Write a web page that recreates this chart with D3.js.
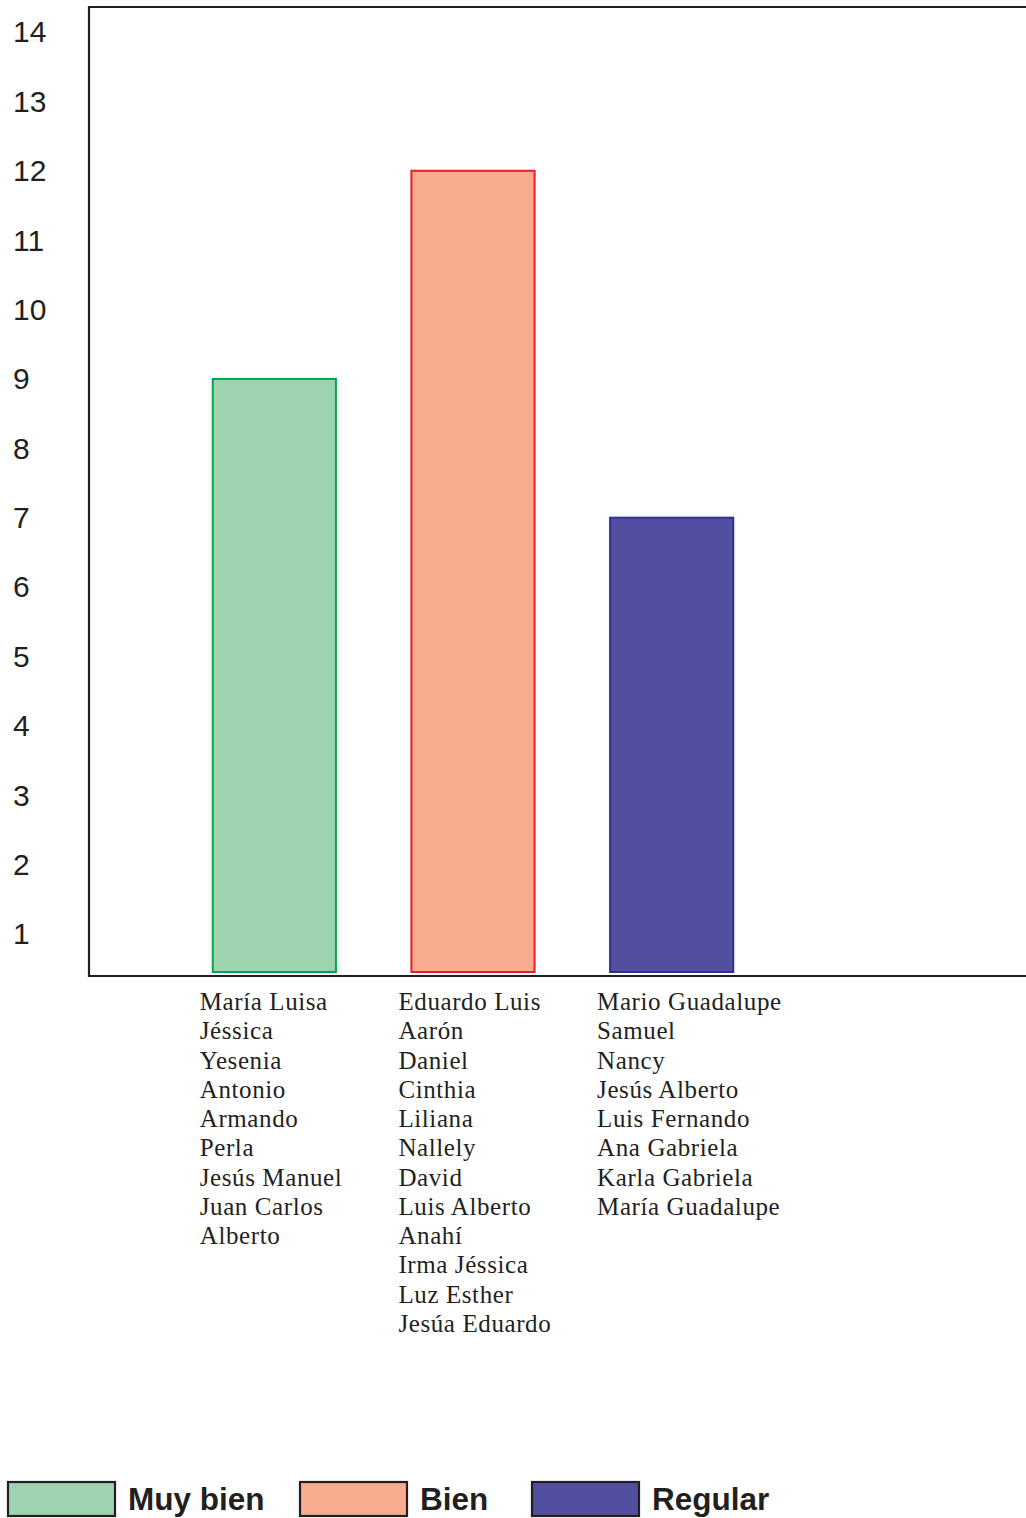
<!DOCTYPE html>
<html>
<head>
<meta charset="utf-8">
<script src="https://cdn.jsdelivr.net/npm/d3@7"></script>
<style>
  html, body { margin: 0; padding: 0; background: #fff; }
  svg { display: block; }
</style>
</head>
<body>
<script>
// Grades and how many students got each one
const categories = ["Muy bien", "Bien", "Regular"];
const counts = [9, 12, 7];
const yTicks = [1, 2, 3, 4, 5, 6, 7, 8, 9, 10, 11, 12, 13, 14];

// Students listed under each bar
const namesMuyBien = ["María Luisa", "Jéssica", "Yesenia", "Antonio", "Armando", "Perla", "Jesús Manuel", "Juan Carlos", "Alberto"];
const namesBien = ["Eduardo Luis", "Aarón", "Daniel", "Cinthia", "Liliana", "Nallely", "David", "Luis Alberto", "Anahí", "Irma Jéssica", "Luz Esther", "Jesúa Eduardo"];
const namesRegular = ["Mario Guadalupe", "Samuel", "Nancy", "Jesús Alberto", "Luis Fernando", "Ana Gabriela", "Karla Gabriela", "María Guadalupe"];
const nameLists = [namesMuyBien, namesBien, namesRegular];

const fills = ["#9dd3ae", "#f7ac90", "#524fa1"];
const strokes = ["#00a651", "#ed1c24", "#2e3192"];

const W = 1026, H = 1518;
const ink = "#231f20";

const svg = d3.select("body").append("svg")
  .attr("width", W).attr("height", H);

const y = d3.scaleLinear().domain([1, 14]).range([934, 32]);
const x = d3.scaleBand().domain(categories).range([175, 771])
  .paddingInner(0.38).paddingOuter(0.19);

const frameLeft = 89, frameTop = 7, frameBottom = 976, frameRight = W;

// Frame: left, top and bottom rules
svg.append("path")
  .attr("d", `M${frameRight},${frameTop}H${frameLeft}V${frameBottom}H${frameRight}`)
  .attr("fill", "none").attr("stroke", ink).attr("stroke-width", 2.2);

// Y values, left-aligned outside the frame
const yAxis = svg.append("g")
  .attr("transform", "translate(13,0)")
  .call(d3.axisRight(y).tickValues(yTicks).tickSize(0).tickPadding(0).tickFormat(d3.format("d")));
yAxis.select(".domain").remove();
yAxis.selectAll("text")
  .attr("font-family", "'Liberation Sans', Arial, sans-serif")
  .attr("font-size", 30)
  .attr("fill", ink)
  .attr("text-anchor", "start")
  .attr("dy", "0.33em");

// Bars
const barBottom = frameBottom - 4;
svg.selectAll("rect.bar")
  .data(categories)
  .join("rect")
  .attr("class", "bar")
  .attr("x", d => x(d))
  .attr("width", x.bandwidth())
  .attr("y", (d, i) => y(counts[i]))
  .attr("height", (d, i) => barBottom - y(counts[i]))
  .attr("fill", (d, i) => fills[i])
  .attr("stroke", (d, i) => strokes[i])
  .attr("stroke-width", 2);

// Student names beneath each bar
categories.forEach((c, i) => {
  svg.append("g")
    .selectAll("text")
    .data(nameLists[i])
    .join("text")
    .attr("x", x(c) - 13)
    .attr("y", (d, j) => 1010 + j * 29.25)
    .attr("font-family", "'Liberation Serif', 'Times New Roman', serif")
    .attr("font-size", 25)
    .attr("letter-spacing", 0.6)
    .attr("fill", ink)
    .text(d => d);
});

// Legend
const legendX = [8, 300, 532];
const legend = svg.append("g");
categories.forEach((c, i) => {
  legend.append("rect")
    .attr("x", legendX[i]).attr("y", 1482)
    .attr("width", 107).attr("height", 34)
    .attr("fill", fills[i])
    .attr("stroke", ink).attr("stroke-width", 2.2);
  legend.append("text")
    .attr("x", legendX[i] + 120).attr("y", 1510)
    .attr("font-family", "'Liberation Sans', Arial, sans-serif")
    .attr("font-weight", "bold")
    .attr("font-size", 31.5)
    .attr("fill", ink)
    .text(c);
});
</script>
</body>
</html>
